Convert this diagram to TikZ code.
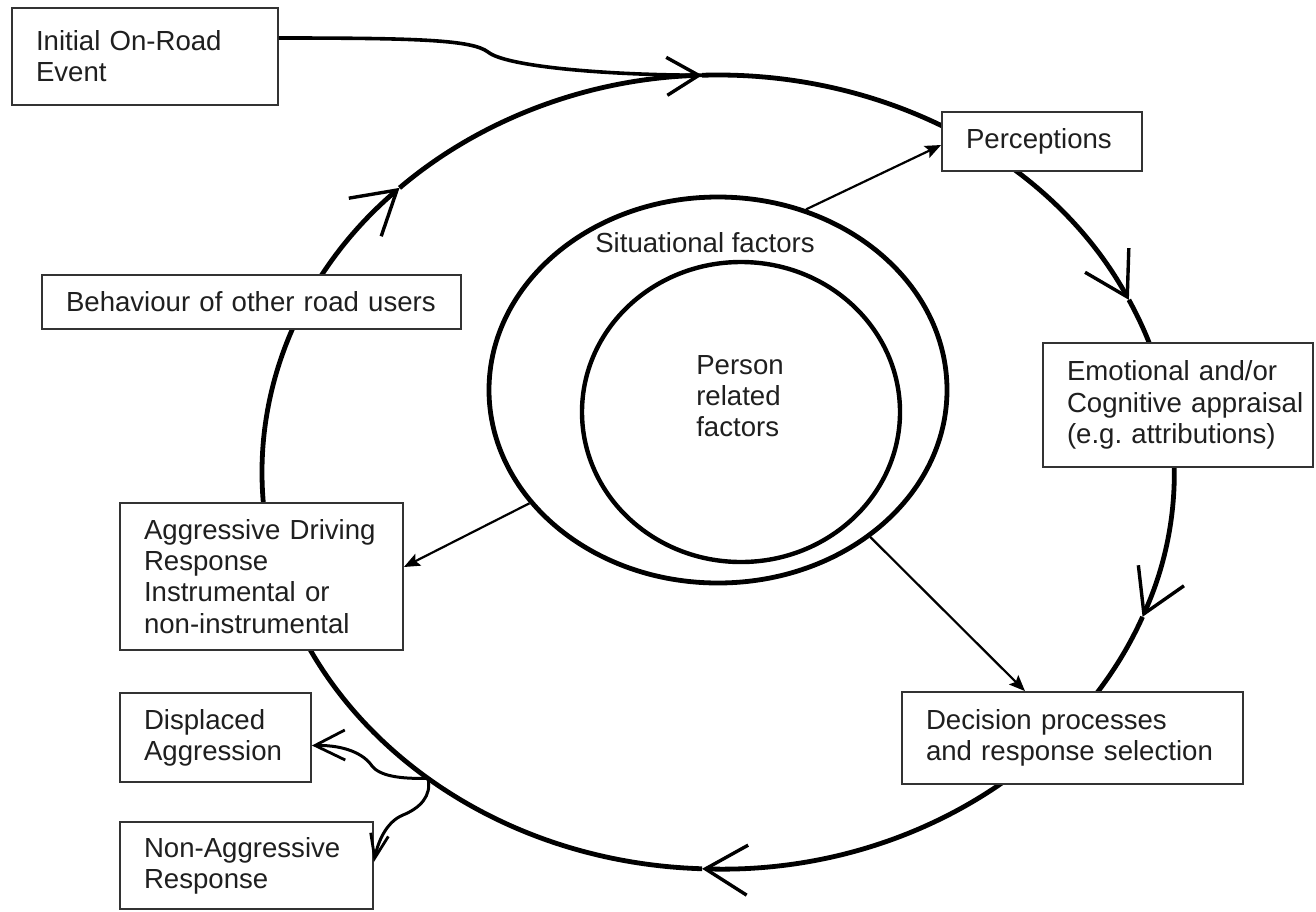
\documentclass[tikz,border=0pt]{standalone}
\usepackage{fontspec}
\setmainfont{Liberation Sans}
\frenchspacing
\usetikzlibrary{arrows.meta,shapes.geometric,calc}
\begin{document}
\begin{tikzpicture}[x=0.5pt,y=-0.5pt,
  box/.style={draw=black!80, line width=0.9pt, fill=white, align=left, inner xsep=12pt, inner ysep=0pt,
    font=\fontsize{13.8}{15.6}\selectfont, text=black!88},
  cyc/.style={line width=2.4pt, -{Straight Barb[length=21pt,width=25pt,line width=1.7pt]}},
  cyctop/.style={line width=2.4pt, -{Straight Barb[length=16pt,width=19pt,line width=1.7pt]}},
  infl/.style={line width=1.1pt, -{Stealth[length=8pt,width=6.5pt,inset=1.5pt]}},
  fork/.style={line width=1.5pt, -{Straight Barb[length=15pt,width=15pt,line width=1.4pt]}},
  forkb/.style={line width=1.5pt, -{Straight Barb[length=12pt,width=9pt,line width=1.4pt]}},
  lbl/.style={font=\fontsize{13.8}{15.6}\selectfont, text=black!88, inner sep=0pt}
]
\useasboundingbox (0,0) rectangle (1316,911);
\coordinate (C) at (718,472);
\path (C) ++(92:228pt and 198.5pt) coordinate (p1);
\path (C) ++(25.7:228pt and 198.5pt) coordinate (p2);
\path (C) ++(-21.4:228pt and 198.5pt) coordinate (p3);
\path (C) ++(-92:228pt and 198.5pt) coordinate (p4);
\path (C) ++(-225.7:228pt and 198.5pt) coordinate (p5);
\path (C) ++(230.5:228pt and 198.5pt) coordinate (F);

% main cycle
\draw[cyc] (p1) arc[start angle=92, end angle=25.7, x radius=228pt, y radius=198.5pt];
\draw[cyc] (p2) arc[start angle=25.7, end angle=-21.4, x radius=228pt, y radius=198.5pt];
\draw[cyc] (p3) arc[start angle=-21.4, end angle=-92, x radius=228pt, y radius=198.5pt];
\draw[cyc] (p4) arc[start angle=-92, end angle=-225.7, x radius=228pt, y radius=198.5pt];
\draw[cyctop] (p5) arc[start angle=-225.7, end angle=-268, x radius=228pt, y radius=198.5pt];

% inner ellipses
\node[ellipse, draw, line width=2.4pt, minimum width=229pt, minimum height=193pt, inner sep=0pt] (sit) at (718,390) {};
\node[ellipse, draw, line width=2.2pt, minimum width=159pt, minimum height=150pt, inner sep=0pt] (per) at (741,412) {};
\node[lbl, anchor=base] (sitlab) at (705,252) {Situational factors};
\node[lbl, align=left] (perlab) at (740,396) {Person\\related\\factors};

% boxes
\node[box, minimum width=133pt, minimum height=48.5pt, text width=109pt] (init) at (145,56.5) {Initial On-Road\\Event};
\node[box, minimum width=100pt, minimum height=29.5pt, text width=76pt] (perc) at (1042,141.5) {Perceptions};
\node[box, minimum width=135pt, minimum height=62pt, text width=111pt] (emo) at (1178,405) {\mbox{Emotional and/or}\\\mbox{Cognitive appraisal}\\\mbox{(e.g. attributions)}};
\node[box, minimum width=170.5pt, minimum height=46pt, text width=146.5pt] (dec) at (1072.5,738) {\mbox{Decision processes}\\\mbox{and response selection}};
\node[box, minimum width=209.5pt, minimum height=27pt, text width=185.5pt] (beh) at (251.5,302) {\mbox{Behaviour of other road users}};
\node[box, minimum width=141.5pt, minimum height=73.5pt, text width=117.5pt] (agg) at (261.5,576.5) {\mbox{Aggressive Driving}\\Response\\\mbox{Instrumental or}\\\mbox{non-instrumental}};
\node[box, minimum width=95.5pt, minimum height=44.5pt, text width=71.5pt] (disp) at (215.5,737.5) {Displaced\\Aggression};
\node[box, minimum width=126.5pt, minimum height=43.5pt, text width=102.5pt] (non) at (246.5,865.5) {\mbox{Non-Aggressive}\\Response};

% initial event joins the cycle
\draw[line width=1.8pt] ([yshift=9.25pt]init.east) .. controls (420,38) and (472,40) .. (488,52)
  .. controls (505,66) and (600,75) .. (p1);

% influences
\draw[infl] (sit.64) -- ([yshift=-1.75pt]perc.west);
\draw[infl] (sit.211.5) -- ([yshift=4.75pt]agg.east);
\draw[infl] (sit.316.5) -- ([xshift=-23.75pt]dec.north);

% fork to outcomes
\draw[fork] (F) .. controls (400,779) and (380,776) .. (372,766)
  .. controls (364,754) and (345,745) .. ([yshift=-4pt]disp.east);
\draw[forkb] (F) .. controls (432,796) and (420,808) .. (403,815)
  .. controls (386,822) and (378,842) .. ([yshift=1.75pt]non.east);
\end{tikzpicture}
\end{document}
